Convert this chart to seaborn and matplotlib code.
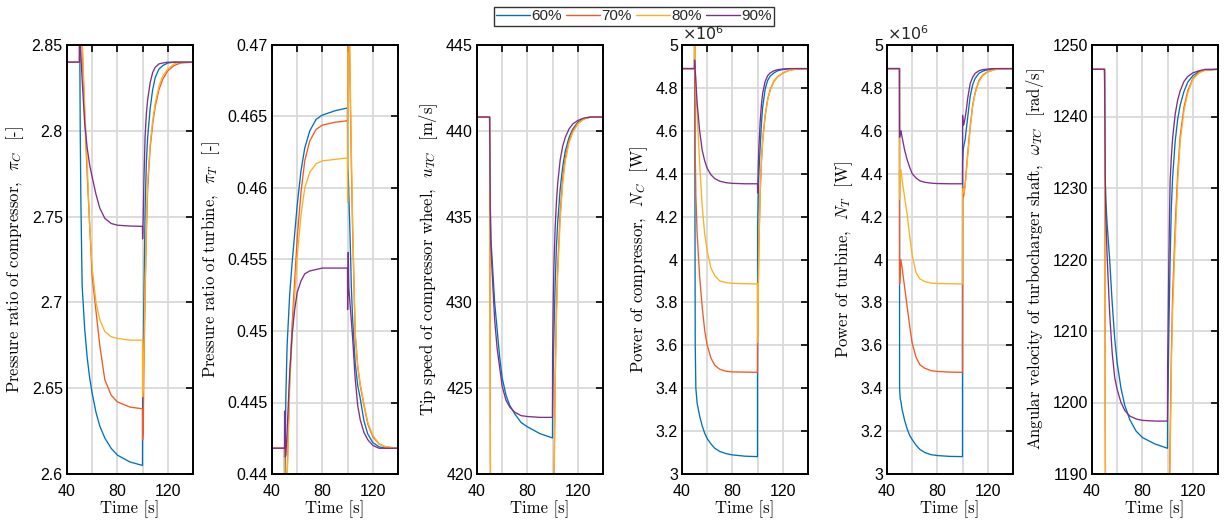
import matplotlib
matplotlib.use("Agg")
import matplotlib.pyplot as plt
import numpy as np
import pandas as pd
import seaborn as sns
from matplotlib.lines import Line2D

# ---------------- data ----------------
time = [40, 49.9, 50, 50.5, 51, 52, 54, 56, 58, 60, 63, 66, 70, 75, 80, 90, 99.9,
        100, 100.5, 101, 102, 103, 104, 106, 108, 110, 113, 116, 120, 125, 130, 140]
loads = ["60%", "70%", "80%", "90%"]

# Pressure ratio of compressor
pic_60 = [2.84, 2.84, 2.87, 2.80, 2.76, 2.71, 2.685, 2.668, 2.656, 2.647, 2.636, 2.628, 2.621, 2.615, 2.611, 2.607, 2.605,
          2.645, 2.67, 2.70, 2.755, 2.782, 2.796, 2.813, 2.824, 2.831, 2.836, 2.838, 2.8395, 2.84, 2.84, 2.84]
pic_70 = [2.84, 2.84, 2.90, 2.89, 2.875, 2.85, 2.81, 2.775, 2.745, 2.715, 2.695, 2.675, 2.655, 2.646, 2.642, 2.639, 2.638,
          2.620, 2.625, 2.66, 2.705, 2.74, 2.766, 2.79, 2.804, 2.814, 2.824, 2.83, 2.835, 2.838, 2.8395, 2.84]
pic_80 = [2.84, 2.84, 2.90, 2.89, 2.875, 2.855, 2.815, 2.78, 2.745, 2.72, 2.70, 2.69, 2.683, 2.680, 2.679, 2.678, 2.678,
          2.645, 2.65, 2.67, 2.71, 2.745, 2.77, 2.792, 2.806, 2.816, 2.826, 2.832, 2.836, 2.839, 2.84, 2.84]
pic_90 = [2.84, 2.84, 2.86, 2.85, 2.845, 2.83, 2.805, 2.79, 2.78, 2.773, 2.763, 2.755, 2.749, 2.746, 2.745, 2.7445, 2.7443,
          2.737, 2.75, 2.77, 2.797, 2.81, 2.818, 2.828, 2.834, 2.837, 2.839, 2.8395, 2.84, 2.84, 2.84, 2.84]

# Pressure ratio of turbine
pit_60 = [0.4418, 0.4418, 0.4395, 0.442, 0.4455, 0.449, 0.4525, 0.4548, 0.4568, 0.4588, 0.4612, 0.4628, 0.4640, 0.4648, 0.4651, 0.4654, 0.4656,
          0.4615, 0.4610, 0.4595, 0.4565, 0.453, 0.4508, 0.4478, 0.4462, 0.4453, 0.4437, 0.4428, 0.4422, 0.4419, 0.4418, 0.4418]
pit_70 = [0.4418, 0.4418, 0.435, 0.436, 0.437, 0.440, 0.4465, 0.4505, 0.4535, 0.4565, 0.4597, 0.4619, 0.4633, 0.4641, 0.4644, 0.4646, 0.4647,
          0.4647, 0.475, 0.473, 0.467, 0.4615, 0.457, 0.4498, 0.4475, 0.4462, 0.4448, 0.4435, 0.4426, 0.4421, 0.4419, 0.4418]
pit_80 = [0.4418, 0.4418, 0.435, 0.436, 0.437, 0.4395, 0.446, 0.4497, 0.4525, 0.4552, 0.4581, 0.4600, 0.4611, 0.4617, 0.4619, 0.4620, 0.4621,
          0.459, 0.476, 0.474, 0.468, 0.4625, 0.4575, 0.4500, 0.4476, 0.4463, 0.4449, 0.4436, 0.4427, 0.4421, 0.4419, 0.4418]
pit_90 = [0.4418, 0.4418, 0.4444, 0.4412, 0.4413, 0.443, 0.447, 0.4498, 0.4515, 0.4527, 0.4535, 0.4540, 0.4542, 0.4543, 0.4544, 0.4544, 0.4544,
          0.4515, 0.4555, 0.453, 0.4518, 0.4507, 0.4495, 0.4467, 0.4448, 0.4438, 0.4429, 0.4424, 0.4420, 0.4418, 0.4418, 0.4418]

# Tip speed of compressor wheel
utc_60 = [440.8, 440.8, 440.8, 436.0, 433.8, 432.5, 430.0, 428.4, 426.8, 425.6, 424.6, 424.0, 423.5, 423.0, 422.75, 422.35, 422.1,
          424.0, 426.0, 428.0, 431.0, 433.2, 434.6, 436.6, 437.9, 438.8, 439.6, 440.1, 440.5, 440.7, 440.8, 440.8]
utc_70 = [440.8, 440.8, 440.8, 424.0, 410.0, 402.0, 396.0, 393.0, 391.5, 390.5, 390.0, 389.8, 389.6, 389.5, 389.5, 389.5, 389.5,
          398.0, 409.0, 418.5, 425.5, 429.5, 432.0, 435.2, 437.2, 438.4, 439.4, 440.0, 440.45, 440.7, 440.8, 440.8]
utc_80 = [440.8, 440.8, 440.8, 425.0, 412.0, 405.0, 400.0, 398.0, 397.0, 396.5, 396.0, 395.8, 395.6, 395.5, 395.5, 395.5, 395.5,
          400.0, 410.0, 418.0, 425.0, 429.0, 431.5, 434.8, 436.9, 438.2, 439.3, 439.9, 440.4, 440.7, 440.8, 440.8]
utc_90 = [440.8, 440.8, 440.8, 435.5, 433.4, 431.8, 429.0, 427.3, 426.2, 425.1, 424.3, 423.9, 423.6, 423.4, 423.35, 423.3, 423.3,
          427.0, 430.0, 432.0, 434.3, 435.8, 436.9, 438.3, 439.1, 439.6, 440.1, 440.4, 440.6, 440.75, 440.8, 440.8]

# Power of compressor (x 1e6 W)
nc_60 = [4.89, 4.89, 5.05, 3.60, 3.40, 3.33, 3.27, 3.225, 3.19, 3.165, 3.14, 3.12, 3.105, 3.095, 3.089, 3.083, 3.081,
         4.15, 4.30, 4.40, 4.52, 4.63, 4.71, 4.795, 4.835, 4.855, 4.87, 4.88, 4.886, 4.889, 4.89, 4.89]
nc_70 = [4.89, 4.89, 5.05, 4.50, 4.30, 4.12, 3.92, 3.78, 3.67, 3.60, 3.54, 3.507, 3.488, 3.479, 3.476, 3.475, 3.474,
         3.614, 3.86, 4.06, 4.31, 4.455, 4.555, 4.672, 4.747, 4.792, 4.832, 4.853, 4.869, 4.882, 4.887, 4.89]
nc_80 = [4.89, 4.89, 5.10, 4.90, 4.82, 4.68, 4.45, 4.25, 4.12, 4.04, 3.96, 3.925, 3.90, 3.892, 3.889, 3.887, 3.886,
         3.614, 3.85, 4.05, 4.30, 4.45, 4.55, 4.67, 4.745, 4.79, 4.83, 4.852, 4.868, 4.882, 4.887, 4.89]
nc_90 = [4.89, 4.89, 4.93, 4.88, 4.83, 4.73, 4.60, 4.51, 4.46, 4.425, 4.395, 4.377, 4.365, 4.358, 4.355, 4.353, 4.353,
         4.31, 4.42, 4.52, 4.64, 4.72, 4.775, 4.83, 4.857, 4.87, 4.88, 4.885, 4.888, 4.89, 4.89, 4.89]

# Power of turbine (x 1e6 W)
nt_60 = [4.89, 4.89, 3.40, 3.35, 3.34, 3.30, 3.25, 3.21, 3.18, 3.16, 3.135, 3.115, 3.10, 3.09, 3.086, 3.082, 3.081,
         4.45, 4.51, 4.53, 4.56, 4.61, 4.66, 4.76, 4.815, 4.845, 4.868, 4.878, 4.885, 4.889, 4.89, 4.89]
nt_70 = [4.89, 4.89, 3.886, 3.95, 4.00, 3.96, 3.87, 3.78, 3.69, 3.61, 3.545, 3.51, 3.493, 3.482, 3.478, 3.475, 3.474,
         4.34, 4.29, 4.30, 4.35, 4.42, 4.49, 4.62, 4.72, 4.78, 4.835, 4.86, 4.876, 4.885, 4.889, 4.89]
nt_80 = [4.89, 4.89, 4.28, 4.38, 4.42, 4.37, 4.29, 4.21, 4.11, 4.02, 3.94, 3.91, 3.897, 3.89, 3.888, 3.887, 3.886,
         4.31, 4.33, 4.31, 4.34, 4.41, 4.48, 4.61, 4.715, 4.775, 4.83, 4.857, 4.874, 4.884, 4.888, 4.89]
nt_90 = [4.89, 4.89, 4.57, 4.59, 4.60, 4.57, 4.51, 4.465, 4.43, 4.40, 4.38, 4.367, 4.36, 4.356, 4.354, 4.353, 4.353,
         4.672, 4.625, 4.63, 4.66, 4.70, 4.75, 4.82, 4.85, 4.868, 4.880, 4.885, 4.888, 4.89, 4.89, 4.89]

# Angular velocity of turbocharger shaft
om_60 = [1246.6, 1246.6, 1246.0, 1231.0, 1228.0, 1225.0, 1220.0, 1214.0, 1209.0, 1205.5, 1202.0, 1199.6, 1197.6, 1196.0, 1195.1, 1194.2, 1193.6,
         1198.0, 1203.0, 1210.0, 1220.0, 1227.5, 1231.5, 1236.5, 1239.6, 1241.6, 1243.5, 1244.8, 1245.7, 1246.3, 1246.5, 1246.6]
om_70 = [1246.6, 1246.6, 1246.6, 1197.0, 1165.0, 1150.0, 1135.0, 1128.0, 1124.0, 1122.0, 1121.0, 1120.5, 1120.0, 1120.0, 1120.0, 1120.0, 1120.0,
         1150.0, 1168.0, 1183.0, 1195.0, 1207.0, 1215.0, 1224.5, 1232.0, 1237.3, 1241.3, 1243.6, 1245.3, 1246.2, 1246.5, 1246.6]
om_80 = [1246.6, 1246.6, 1246.6, 1200.0, 1170.0, 1160.0, 1150.0, 1146.0, 1144.0, 1143.0, 1142.0, 1141.5, 1141.0, 1141.0, 1141.0, 1141.0, 1141.0,
         1155.0, 1170.0, 1180.0, 1192.0, 1205.0, 1213.0, 1222.5, 1230.8, 1236.5, 1240.8, 1243.3, 1245.2, 1246.1, 1246.5, 1246.6]
om_90 = [1246.6, 1246.6, 1245.0, 1232.0, 1226.0, 1220.5, 1212.5, 1207.0, 1203.5, 1201.8, 1200.0, 1198.9, 1198.1, 1197.7, 1197.5, 1197.4, 1197.4,
         1205.0, 1212.0, 1220.0, 1231.0, 1234.5, 1237.0, 1240.3, 1242.3, 1243.6, 1244.9, 1245.6, 1246.1, 1246.4, 1246.6, 1246.6]

xticks = [40, 60, 80, 100, 120, 140]
xticklabels = ["40", "", "80", "", "120", ""]

yt_pic = [2.6, 2.65, 2.7, 2.75, 2.8, 2.85]
yt_pit = [0.44, 0.445, 0.45, 0.455, 0.46, 0.465, 0.47]
yt_utc = [420, 425, 430, 435, 440, 445]
yt_pow = [3, 3.2, 3.4, 3.6, 3.8, 4, 4.2, 4.4, 4.6, 4.8, 5]
yt_om = [1190, 1200, 1210, 1220, 1230, 1240, 1250]

colors = ["#0072BD", "#F05A28", "#FDB022", "#7E2F8E"]

# ---------------- style ----------------
sns.set_theme(style="white")
plt.rcParams.update({
    "font.family": ["Liberation Sans", "DejaVu Sans"],
    "mathtext.fontset": "cm",
    "axes.edgecolor": "black",
    "axes.linewidth": 1.4,
    "xtick.color": "black",
    "ytick.color": "black",
    "axes.labelcolor": "black",
})

panels = [
    ([pic_60, pic_70, pic_80, pic_90], (2.6, 2.85), yt_pic, r"Pressure ratio of compressor,  $\pi_C$  [-]", False),
    ([pit_60, pit_70, pit_80, pit_90], (0.44, 0.47), yt_pit, r"Pressure ratio of turbine,  $\pi_T$  [-]", False),
    ([utc_60, utc_70, utc_80, utc_90], (420, 445), yt_utc, r"Tip speed of compressor wheel,  $u_{TC}$  [m/s]", False),
    ([nc_60, nc_70, nc_80, nc_90], (3, 5), yt_pow, r"Power of compressor,  $N_C$  [W]", True),
    ([nt_60, nt_70, nt_80, nt_90], (3, 5), yt_pow, r"Power of turbine,  $N_T$  [W]", True),
    ([om_60, om_70, om_80, om_90], (1190, 1250), yt_om, r"Angular velocity of turbocharger shaft,  $\omega_{TC}$  [rad/s]", False),
]

W, H = 1226, 520
fig = plt.figure(figsize=(W / 100, H / 100), dpi=100)
lefts = [67, 272, 477, 682, 887, 1092]

for left, (series, ylim, yt, ylabel, sci) in zip(lefts, panels):
    ax = fig.add_axes([left / W, 46 / H, 126 / W, 429 / H])
    df = pd.DataFrame({
        "Time": time * len(loads),
        "value": [v for s in series for v in s],
        "Load": [ld for ld, s in zip(loads, series) for _ in s],
    })
    sns.lineplot(data=df, x="Time", y="value", hue="Load", hue_order=loads,
                 palette=colors, estimator=None, sort=False, legend=False,
                 linewidth=0.95, ax=ax)
    ax.set_xlim(40, 140)
    ax.set_ylim(*ylim)
    ax.set_xticks(xticks)
    ax.set_xticklabels(xticklabels)
    ax.set_yticks(yt)
    ax.set_yticklabels(["%g" % v for v in yt])
    ax.grid(True, color="#d9d9d9", linewidth=1.3)
    ax.set_axisbelow(True)
    ax.tick_params(direction="in", top=True, right=True, length=5, width=1.2,
                   labelsize=11.5)
    ax.tick_params(axis="x", pad=7)
    ax.tick_params(axis="y", pad=3)
    for sp in ax.spines.values():
        sp.set_visible(True)
        sp.set_color("black")
        sp.set_linewidth(1.4)
    ax.set_xlabel("Time [s]", fontfamily="cmr10", fontsize=12, labelpad=1)
    ax.set_ylabel(ylabel, fontfamily="cmr10", fontsize=12, labelpad=4)
    if sci:
        ax.text(0.0, 1.005, r"$\times10^{6}$", transform=ax.transAxes,
                ha="left", va="bottom", fontsize=11.5, math_fontfamily="dejavusans")

handles = [Line2D([0], [0], color=c, lw=1.0) for c in colors]
fig.legend(handles, loads, loc="center", bbox_to_anchor=(634 / W, 1 - 16.5 / H),
           ncol=4, frameon=True, fancybox=False, edgecolor="black",
           fontsize=11, handlelength=2.2, handletextpad=0.1, columnspacing=0.3,
           borderpad=0.15, borderaxespad=0.0)
leg = fig.legends[0]
leg.get_frame().set_linewidth(1.0)

fig.savefig("out.png", dpi=100)
